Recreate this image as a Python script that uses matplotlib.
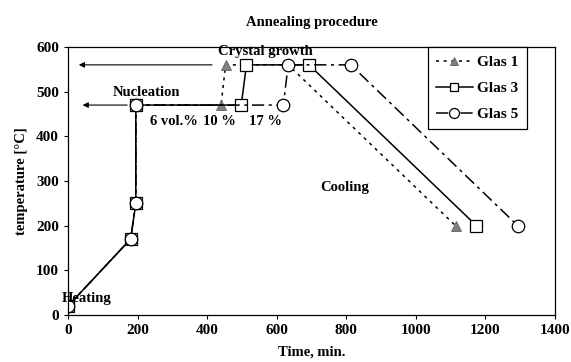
import matplotlib
matplotlib.use("Agg")
import matplotlib.pyplot as plt

plt.rcParams['font.family'] = ['Liberation Serif', 'DejaVu Serif']
plt.rcParams['font.weight'] = 'bold'
plt.rcParams['font.size'] = 10.5

# Annealing schedules (time in min, temperature in °C)
time_g1 = [0, 180, 195, 195, 440, 453, 633, 1114]
temp_g1 = [20, 170, 250, 470, 470, 560, 560, 200]
time_g3 = [0, 180, 195, 195, 498, 513, 693, 1174]
temp_g3 = [20, 170, 250, 470, 470, 560, 560, 200]
time_g5 = [0, 180, 195, 195, 619, 633, 813, 1293]
temp_g5 = [20, 170, 250, 470, 470, 560, 560, 200]

x_ticks = [0, 200, 400, 600, 800, 1000, 1200, 1400]
y_ticks = [0, 100, 200, 300, 400, 500, 600]

fig = plt.figure(figsize=(5.71, 3.62), dpi=100)
ax = fig.add_axes([68 / 571, 1 - 315 / 362, (555 - 68) / 571, (315 - 47) / 362])

ax.plot(time_g1, temp_g1, color='black', lw=1.1, ls=(0, (2, 3)),
        marker='^', ms=7.5, mfc='#808080', mec='#606060', mew=0.6,
        markevery=[0, 1, 2, 3, 4, 5, 7], label='Glas 1')
ax.plot(time_g3, temp_g3, color='black', lw=1.1, ls='-',
        marker='s', ms=8, mfc='white', mec='black', mew=0.9, label='Glas 3')
ax.plot(time_g5, temp_g5, color='black', lw=1.1, ls=(0, (8, 3, 2, 3)),
        marker='o', ms=9, mfc='white', mec='black', mew=0.9, label='Glas 5')

# phase arrows toward the temperature axis
arrow = dict(arrowstyle='-|>', color='black', lw=0.8, mutation_scale=8)
ax.annotate('', xy=(23, 560), xytext=(422, 560), arrowprops=arrow)
ax.annotate('', xy=(34, 470), xytext=(178, 470), arrowprops=arrow)

ax.text(566, 591, 'Crystal growth', ha='center', va='center')
ax.text(227, 499, 'Nucleation', ha='center', va='center')
ax.text(305, 434, '6 vol.%', ha='center', va='center')
ax.text(435, 434, '10 %', ha='center', va='center')
ax.text(567, 434, '17 %', ha='center', va='center')
ax.text(796, 285, 'Cooling', ha='center', va='center')
ax.text(54, 36, 'Heating', ha='center', va='center')

ax.set_xlim(0, 1400)
ax.set_ylim(0, 600)
ax.set_xticks(x_ticks)
ax.set_yticks(y_ticks)
ax.tick_params(direction='out', length=3, width=0.8, labelsize=11)
for s in ax.spines.values():
    s.set_linewidth(0.9)

ax.set_xlabel('Time, min.', fontsize=10.5, fontweight='bold', labelpad=6)
ax.set_ylabel('temperature [°C]', fontsize=10.5, fontweight='bold', labelpad=6)
ax.set_title('Annealing procedure', fontsize=10.5, fontweight='bold', pad=15)

leg = ax.legend(loc='upper right', bbox_to_anchor=(527 / 571, 1 - 47 / 362),
                bbox_transform=fig.transFigure, fancybox=False, edgecolor='black',
                framealpha=1, handlelength=2.4, handletextpad=0.3, borderpad=0.55,
                labelspacing=0.8, borderaxespad=0, markerscale=0.8,
                prop={'weight': 'bold', 'size': 11})
leg.get_frame().set_linewidth(0.9)

fig.savefig('out.png', dpi=100)
